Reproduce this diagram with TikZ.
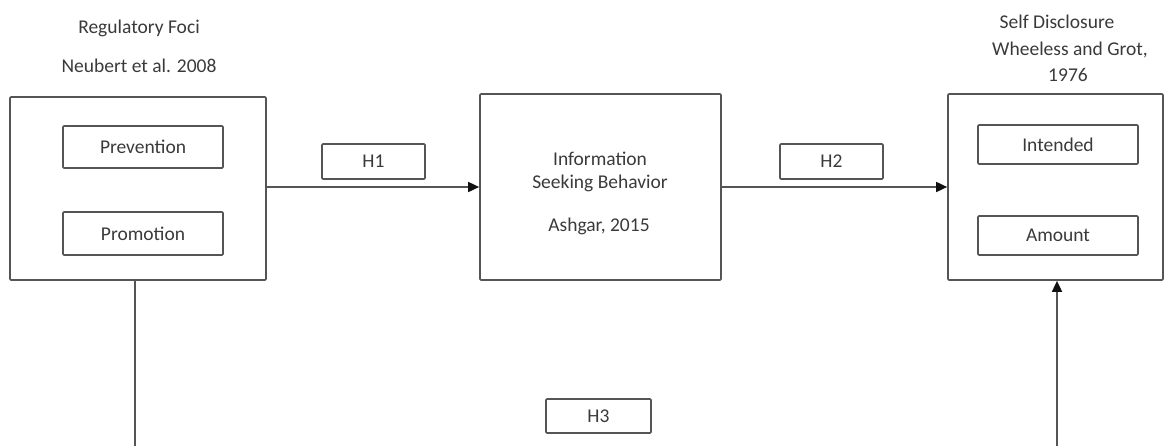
\documentclass[tikz,border=0pt]{standalone}
\usepackage{fontspec}
\setmainfont{Carlito}
\usetikzlibrary{arrows.meta}
\definecolor{ln}{HTML}{555555}
\definecolor{tx}{HTML}{3A3A3A}
\definecolor{tip}{HTML}{111111}
\begin{document}
\begin{tikzpicture}[x=1pt,y=-1pt,
  box/.style={draw=ln, line width=1.7pt, inner sep=0pt, rounded corners=1pt},
  lbl/.style={text=tx, font=\fontsize{19.5}{24}\selectfont, inner sep=0pt, align=center},
  conn/.style={draw=ln, line width=1.7pt},
  arr/.style={conn, -{Triangle[length=11pt,width=10pt,color=tip]}}]
\useasboundingbox (0,0) rectangle (1164,445);

% left group
\node[lbl] (t1) at (139,28) {Regulatory Foci};
\node[lbl] (t2) at (139,66) {Neubert et al. 2008};
\node[box, minimum width=256pt, minimum height=183pt] (left) at (138,188.5) {};
\node[box, lbl, minimum width=160pt, minimum height=42pt] (prev) at (143,147) {Prevention};
\node[box, lbl, minimum width=160pt, minimum height=43pt] (prom) at (143,233.5) {Promotion};

% middle
\node[box, minimum width=241pt, minimum height=186pt] (mid) at (600.5,187) {};
\node[lbl] (m1) at (600,159) {Information};
\node[lbl] (m2) at (600,183) {Seeking Behavior};
\node[lbl] (m3) at (599,226) {Ashgar, 2015};

% right group
\node[lbl] (r1) at (1057,22) {Self Disclosure};
\node[lbl] (r2) at (1070,50) {Wheeless and Grot,};
\node[lbl] (r3) at (1068,75) {1976};
\node[box, minimum width=215pt, minimum height=186pt] (right) at (1055.5,187) {};
\node[box, lbl, minimum width=160pt, minimum height=39pt] (int) at (1058,144.5) {Intended};
\node[box, lbl, minimum width=160pt, minimum height=39pt] (amt) at (1058,235.5) {Amount};

% hypothesis labels
\node[box, lbl, minimum width=103pt, minimum height=35pt] (h1) at (373.5,161.5) {H1};
\node[box, lbl, minimum width=103pt, minimum height=35pt] (h2) at (831.5,161.5) {H2};
\node[box, lbl, minimum width=105pt, minimum height=34pt] (h3) at (598.5,416) {H3};

% connectors
\coordinate (lb) at (135,447);
\coordinate (rb) at (1057,447);
\draw[arr] (mid.west -| left.east) -- (mid.west);
\draw[arr] (mid.east) -- (right.west);
\draw[conn] (lb |- left.south) -- (lb);
\draw[arr] (rb) -- (rb |- right.south);
\end{tikzpicture}
\end{document}
